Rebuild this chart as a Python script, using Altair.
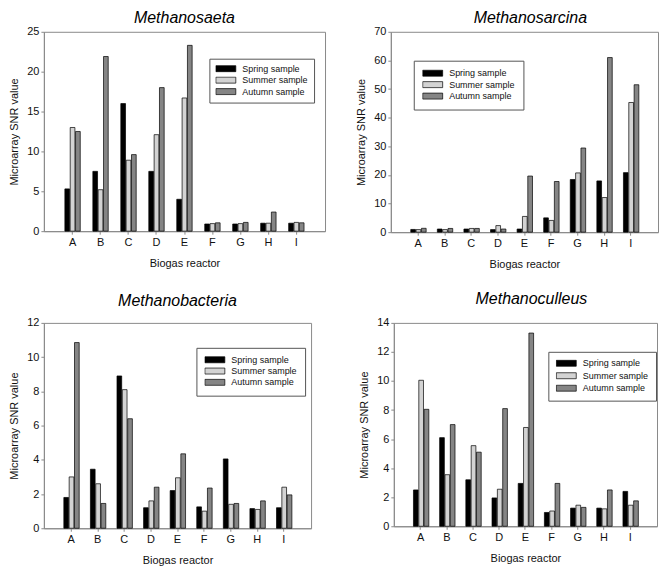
import altair as alt
import pandas as pd

reactors = list("ABCDEFGHI")
seasons = ["Spring sample", "Summer sample", "Autumn sample"]
colors = ["#000000", "#d3d3d3", "#858585"]

saeta_spring = [5.3, 7.5, 16.0, 7.5, 4.0, 0.9, 0.9, 1.0, 1.0]
saeta_summer = [13.0, 5.2, 8.9, 12.1, 16.7, 0.95, 0.95, 1.0, 1.1]
saeta_autumn = [12.5, 21.9, 9.6, 18.0, 23.3, 1.05, 1.1, 2.4, 1.05]

sarcina_spring = [0.95, 1.1, 1.1, 0.9, 1.1, 5.0, 18.4, 17.9, 20.8]
sarcina_summer = [0.9, 0.9, 1.3, 2.3, 5.5, 4.1, 20.7, 12.1, 45.3]
sarcina_autumn = [1.35, 1.3, 1.3, 1.1, 19.6, 17.7, 29.4, 61.0, 51.5]

bact_spring = [1.8, 3.45, 8.9, 1.2, 2.2, 1.25, 4.05, 1.15, 1.2]
bact_summer = [3.0, 2.6, 8.1, 1.6, 2.95, 1.0, 1.4, 1.1, 2.4]
bact_autumn = [10.85, 1.45, 6.4, 2.4, 4.35, 2.35, 1.45, 1.6, 1.95]

cull_spring = [2.5, 6.1, 3.2, 1.95, 2.95, 0.95, 1.25, 1.25, 2.4]
cull_summer = [10.05, 3.55, 5.55, 2.55, 6.8, 1.05, 1.45, 1.2, 1.45]
cull_autumn = [8.05, 7.0, 5.1, 8.1, 13.3, 2.95, 1.3, 2.5, 1.75]

FONT = "Liberation Sans"


def panel(title, spring, summer, autumn, ymax, ystep, width, height,
          lx, ly, lpad, lrow, title_offset, title_dx, ytpad):
    df = pd.DataFrame({
        "reactor": reactors * 3,
        "season": [s for s in seasons for _ in reactors],
        "value": list(spring) + list(summer) + list(autumn),
    })
    return alt.Chart(df).mark_bar(stroke="black", strokeWidth=0.7).encode(
        x=alt.X("reactor:N", sort=reactors,
                scale=alt.Scale(paddingInner=0.45, paddingOuter=0.75),
                axis=alt.Axis(title="Biogas reactor", labelAngle=0,
                              labelPadding=2, titlePadding=10)),
        xOffset=alt.XOffset("season:N", sort=seasons,
                            scale=alt.Scale(paddingInner=0.12)),
        y=alt.Y("value:Q", scale=alt.Scale(domain=[0, ymax], nice=False),
                axis=alt.Axis(values=list(range(0, ymax + 1, ystep)),
                              title="Microarray SNR value",
                              titlePadding=ytpad, labelPadding=2)),
        color=alt.Color("season:N", sort=seasons,
                        scale=alt.Scale(domain=seasons, range=colors),
                        legend=alt.Legend(
                            title=None, orient="none", legendX=lx, legendY=ly,
                            padding=lpad, strokeColor="#555555",
                            fillColor="white",
                            symbolType="M-1,-0.3H1V0.3H-1Z", symbolSize=400,
                            symbolStrokeColor="black", symbolStrokeWidth=0.7,
                            symbolOpacity=1,
                            labelFontSize=9, labelFont=FONT,
                            labelColor="#111111", labelOffset=6,
                            rowPadding=lrow, clipHeight=8)),
    ).properties(
        width=width, height=height,
        title=alt.TitleParams(text=title, fontSize=16, fontStyle="italic",
                              fontWeight="normal", font=FONT, frame="group",
                              anchor="middle", offset=title_offset,
                              dx=title_dx, color="black"),
    )


p1 = panel("Methanosaeta", saeta_spring, saeta_summer, saeta_autumn,
           25, 5, 282, 200, 166, 27, 6, 2.5, 0, 0, 7)
p2 = panel("Methanosarcina", sarcina_spring, sarcina_summer, sarcina_autumn,
           70, 10, 268, 201, 23, 29, 8.5, 2.5, 0, 6, 7)
p3 = panel("Methanobacteria", bact_spring, bact_summer, bact_autumn,
           12, 2, 268, 206, 153, 25, 8, 2.3, 8, 0, 7)
p4 = panel("Methanoculleus", cull_spring, cull_summer, cull_autumn,
           14, 2, 264, 204, 155, 29, 7.5, 3.5, 10, 6, 7)

top = alt.hconcat(p1, p2, spacing=29).resolve_scale(color="independent").resolve_legend(color="independent")
bottom = alt.hconcat(p3, p4, spacing=46).resolve_scale(color="independent").resolve_legend(color="independent")

chart = alt.vconcat(top, bottom, spacing=20).resolve_scale(
    color="independent").resolve_legend(color="independent").properties(
    padding=0
).configure_view(
    stroke="#8a8a8a", strokeWidth=1
).configure_axis(
    domainColor="#8a8a8a", tickColor="#8a8a8a", labelFont=FONT,
    titleFont=FONT, labelFontSize=11, titleFontSize=11,
    titleFontWeight="normal", labelColor="#111111", titleColor="#111111",
    grid=False, tickSize=3,
)

chart.save("out.html", embed_options={"renderer": "svg", "actions": False})
